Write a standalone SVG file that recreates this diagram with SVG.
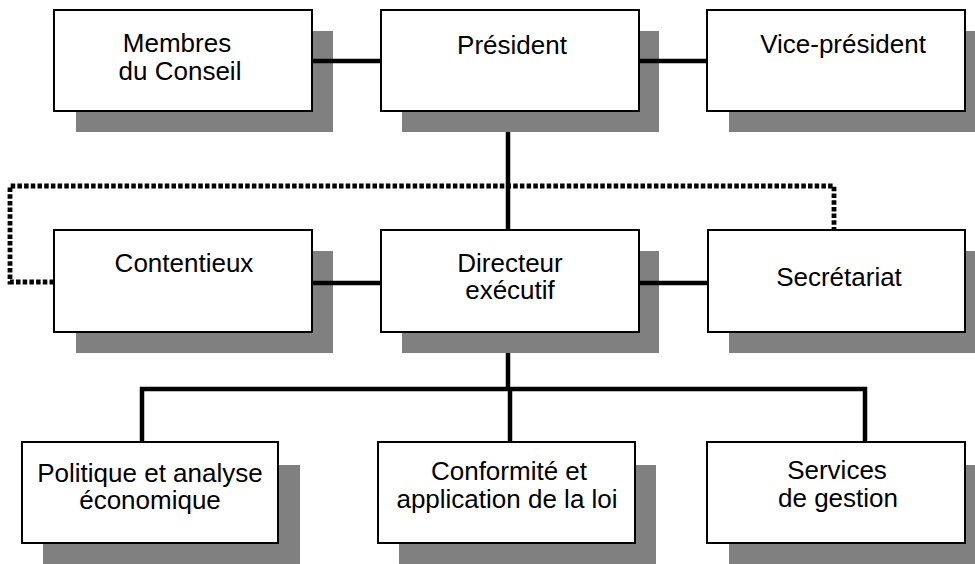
<svg xmlns="http://www.w3.org/2000/svg" width="975" height="564" viewBox="0 0 975 564">
<style>
.sh{fill:#808080;stroke:none}
.bx{fill:#fff;stroke:#000;stroke-width:2}
.t{font-family:"Liberation Sans",Arial,sans-serif;font-size:26px;fill:#000;text-anchor:middle}
.c{fill:none;stroke:#000;stroke-width:4.5;stroke-linecap:butt;stroke-linejoin:miter}
.d{fill:none;stroke:#000;stroke-width:4.8;stroke-dasharray:4.5 2.2}
</style>
<rect width="975" height="564" fill="#fff"/>
<g id="membres">
<rect class="sh" x="76" y="31" width="257" height="101"/>
<rect class="bx" x="54" y="10" width="258" height="101"/>
<text class="t" x="177" y="52">Membres</text>
<text class="t" x="180" y="80">du Conseil</text>
</g>
<g id="president">
<rect class="sh" x="402" y="31" width="257" height="101"/>
<rect class="bx" x="381" y="10" width="258" height="101"/>
<text class="t" x="512" y="54">Président</text>
</g>
<g id="vice-president">
<rect class="sh" x="729" y="31" width="257" height="101"/>
<rect class="bx" x="707" y="10" width="258" height="101"/>
<text class="t" x="843" y="53">Vice-président</text>
</g>
<g id="contentieux">
<rect class="sh" x="76" y="251" width="257" height="102"/>
<rect class="bx" x="54" y="230" width="258" height="102"/>
<text class="t" x="184" y="272">Contentieux</text>
</g>
<g id="directeur">
<rect class="sh" x="402" y="251" width="257" height="102"/>
<rect class="bx" x="381" y="230" width="258" height="102"/>
<text class="t" x="510" y="272">Directeur</text>
<text class="t" x="510" y="299">exécutif</text>
</g>
<g id="secretariat">
<rect class="sh" x="729" y="251" width="257" height="102"/>
<rect class="bx" x="708" y="230" width="257" height="102"/>
<text class="t" x="839" y="286">Secrétariat</text>
</g>
<g id="politique">
<rect class="sh" x="43" y="465" width="257" height="99"/>
<rect class="bx" x="22" y="442" width="256" height="101"/>
<text class="t" x="150" y="482">Politique et analyse</text>
<text class="t" x="150" y="509">économique</text>
</g>
<g id="conformite">
<rect class="sh" x="399" y="465" width="257" height="99"/>
<rect class="bx" x="378" y="442" width="257" height="101"/>
<text class="t" x="509" y="480">Conformité et</text>
<text class="t" x="507" y="508">application de la loi</text>
</g>
<g id="services">
<rect class="sh" x="729" y="465" width="257" height="99"/>
<rect class="bx" x="707" y="442" width="258" height="101"/>
<text class="t" x="837" y="479">Services</text>
<text class="t" x="838" y="507">de gestion</text>
</g>
<g id="connectors">
<line class="c" x1="312" y1="61" x2="381" y2="61"/>
<line class="c" x1="639" y1="61" x2="707" y2="61"/>
<line class="c" x1="508" y1="132" x2="508" y2="230"/>
<line class="c" x1="312" y1="283" x2="381" y2="283"/>
<line class="c" x1="639" y1="283" x2="708" y2="283"/>
<polyline class="d" points="54,282 10,282 10,186 834,186 834,230"/>
<line class="c" x1="508" y1="353" x2="508" y2="389"/>
<polyline class="c" points="142,442 142,389 865,389 865,442"/>
<line class="c" x1="510" y1="389" x2="510" y2="442"/>
</g>
</svg>
